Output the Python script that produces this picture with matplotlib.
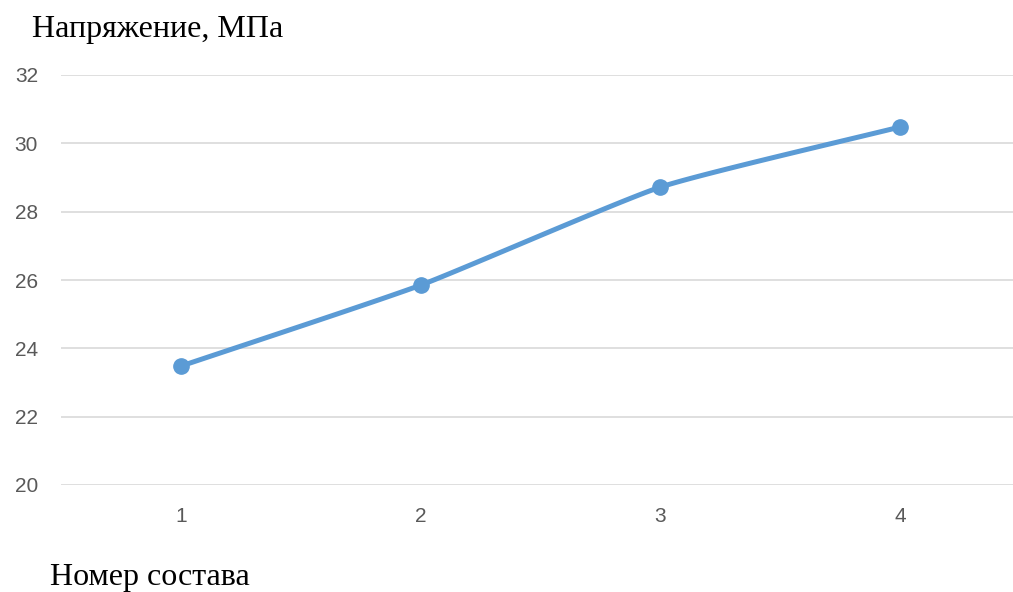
import numpy as np
import matplotlib.pyplot as plt

# data
sostav = [1, 2, 3, 4]
napr = [23.48, 25.85, 28.72, 30.48]
yticks = [20, 22, 24, 26, 28, 30, 32]


def smooth(x, y, k=0.5, n=30):
    # hermite curve with reduced tangents, close to excel "smoothed line"
    x = np.asarray(x, float)
    y = np.asarray(y, float)
    t = np.linspace(0, 1, n)
    h00 = 2 * t ** 3 - 3 * t ** 2 + 1
    h10 = t ** 3 - 2 * t ** 2 + t
    h01 = -2 * t ** 3 + 3 * t ** 2
    h11 = t ** 3 - t ** 2
    out = []
    for p in (x, y):
        m = np.gradient(p) * k
        seg = []
        for i in range(len(p) - 1):
            seg.extend(h00 * p[i] + h10 * m[i] + h01 * p[i + 1] + h11 * m[i + 1])
        out.append(seg)
    return out


fig = plt.figure(figsize=(10.13, 5.92), dpi=100)
ax = fig.add_axes([61 / 1013, 1 - 485 / 592, 1 - 61 / 1013, 410 / 592])

blue = '#5B9BD5'
sx, sy = smooth(sostav, napr)
ax.plot(sx, sy, color=blue, lw=3.6, solid_capstyle='round', zorder=3)
ax.plot(sostav, napr, 'o', color=blue, ms=11, zorder=4)

ax.set_xlim(0.5, 4.47)
ax.set_ylim(20, 32)
ax.set_yticks(yticks)
ax.set_xticks(sostav)
ax.grid(axis='y', color='#d9d9d9', lw=1.2)
ax.set_axisbelow(True)
for s in ax.spines.values():
    s.set_visible(False)
ax.tick_params(length=0, labelsize=15, colors='#595959')
ax.tick_params(axis='y', pad=16.5)
ax.tick_params(axis='x', pad=16)
for lab in ax.get_xticklabels() + ax.get_yticklabels():
    lab.set_family('Liberation Sans')

fig.text(32 / 1013, 1 - 29 / 592, 'Напряжение, МПа', family='Liberation Serif',
         fontsize=23, va='center', ha='left')
fig.text(50 / 1013, 1 - 577 / 592, 'Номер состава', family='Liberation Serif',
         fontsize=23, va='center', ha='left')

fig.savefig('out.png', dpi=100)
